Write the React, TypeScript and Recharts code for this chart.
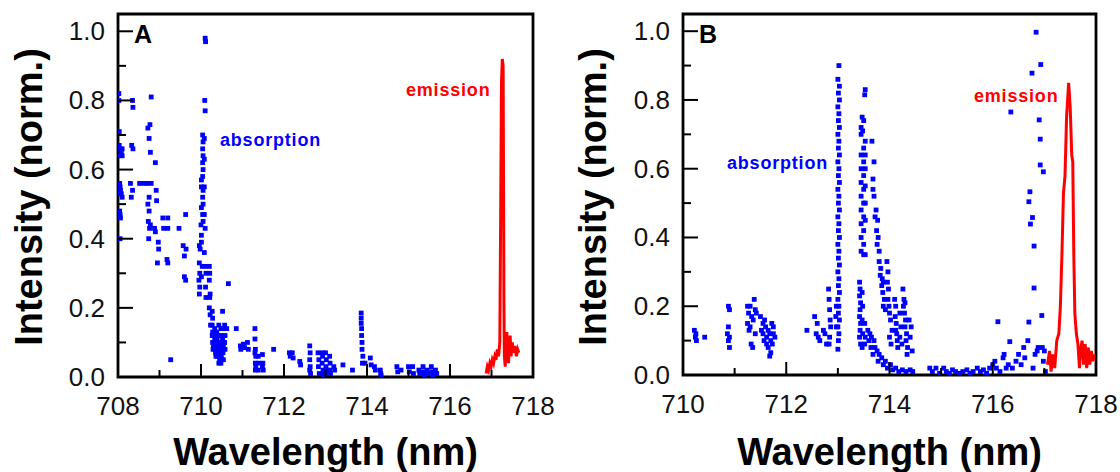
import React from 'react';
import { ScatterChart, Scatter, XAxis, YAxis, ReferenceArea } from 'recharts';

// panel A: absorption points (x = wavelength nm, y = intensity)
const absorptionA: [number, number][] = [
  [708.02, 0.82], [708.02, 0.8], [708.03, 0.71], [708.03, 0.67], [708.05, 0.66], [708.04, 0.64],
  [708.08, 0.65], [708.1, 0.66], [708.1, 0.64], [708.04, 0.56], [708.05, 0.55], [708.06, 0.54],
  [708.05, 0.53], [708.08, 0.53], [708.1, 0.52], [708.04, 0.48], [708.05, 0.47], [708.06, 0.46],
  [708.05, 0.4], [708.35, 0.8], [708.36, 0.78], [708.33, 0.67], [708.36, 0.66], [708.3, 0.56],
  [708.35, 0.54], [708.32, 0.52], [708.52, 0.56], [708.62, 0.56], [708.72, 0.72], [708.75, 0.69],
  [708.77, 0.73], [708.8, 0.81], [708.78, 0.65], [708.7, 0.56], [708.8, 0.56], [708.75, 0.52],
  [708.72, 0.5], [708.75, 0.48], [708.73, 0.45], [708.78, 0.44], [708.76, 0.43], [708.74, 0.4],
  [708.9, 0.62], [708.92, 0.54], [708.93, 0.51], [708.88, 0.43], [708.9, 0.42], [708.97, 0.39],
  [708.98, 0.37], [708.95, 0.33], [709.08, 0.46], [709.1, 0.43], [709.2, 0.46], [709.2, 0.43],
  [709.18, 0.34], [709.2, 0.33], [709.27, 0.05], [709.47, 0.43], [709.57, 0.38], [709.6, 0.35],
  [709.63, 0.47], [709.64, 0.37], [709.6, 0.29], [709.63, 0.28],
  [709.96, 0.38], [709.98, 0.37], [709.96, 0.33], [709.97, 0.3], [709.95, 0.28], [709.97, 0.26],
  [709.96, 0.24], [710.01, 0.57], [710.01, 0.55], [710.01, 0.49], [710.0, 0.44], [710.01, 0.41],
  [710.01, 0.39], [710.03, 0.32], [710.01, 0.29], [710.04, 0.7], [710.05, 0.68], [710.04, 0.66],
  [710.05, 0.64], [710.04, 0.62], [710.05, 0.6], [710.04, 0.58], [710.05, 0.54], [710.04, 0.52],
  [710.05, 0.5], [710.04, 0.47], [710.05, 0.45], [710.1, 0.98], [710.11, 0.97], [710.09, 0.8],
  [710.1, 0.77], [710.08, 0.69], [710.08, 0.63], [710.08, 0.55], [710.08, 0.47], [710.1, 0.43],
  [710.08, 0.36], [710.12, 0.32], [710.12, 0.3], [710.11, 0.26], [710.12, 0.23],
  [710.2, 0.32], [710.21, 0.3], [710.2, 0.28], [710.22, 0.24], [710.21, 0.23], [710.2, 0.2],
  [710.22, 0.18], [710.23, 0.15], [710.27, 0.19], [710.28, 0.17], [710.27, 0.15], [710.28, 0.13],
  [710.27, 0.12], [710.28, 0.1], [710.3, 0.09], [710.29, 0.08], [710.33, 0.14], [710.34, 0.12],
  [710.33, 0.11], [710.35, 0.1], [710.34, 0.08], [710.35, 0.07], [710.36, 0.06], [710.38, 0.13],
  [710.39, 0.11], [710.38, 0.09], [710.4, 0.08], [710.39, 0.06], [710.43, 0.15], [710.44, 0.12],
  [710.43, 0.1], [710.45, 0.09], [710.44, 0.07], [710.45, 0.05], [710.43, 0.04], [710.48, 0.14],
  [710.49, 0.12], [710.48, 0.1], [710.5, 0.08], [710.49, 0.06], [710.48, 0.04], [710.52, 0.19],
  [710.53, 0.14], [710.52, 0.11], [710.54, 0.09], [710.53, 0.07], [710.54, 0.05], [710.57, 0.15],
  [710.58, 0.12], [710.57, 0.1], [710.58, 0.08], [710.62, 0.14], [710.66, 0.27], [710.85, 0.14],
  [710.95, 0.09], [710.96, 0.08], [711.02, 0.095], [711.05, 0.085], [711.12, 0.1], [711.14, 0.08],
  [711.3, 0.14], [711.3, 0.11], [711.31, 0.08], [711.3, 0.07], [711.32, 0.06], [711.31, 0.04],
  [711.32, 0.03], [711.31, 0.02], [711.38, 0.06], [711.39, 0.04], [711.38, 0.02], [711.48, 0.065],
  [711.49, 0.04], [711.48, 0.03], [711.5, 0.02], [711.75, 0.08], [712.13, 0.07], [712.15, 0.06],
  [712.2, 0.07], [712.22, 0.055], [712.38, 0.045], [712.4, 0.035], [712.62, 0.09], [712.63, 0.07],
  [712.62, 0.05], [712.63, 0.03], [712.62, 0.02], [712.64, 0.01], [712.82, 0.07], [712.84, 0.05],
  [712.83, 0.03], [712.85, 0.01], [712.92, 0.07], [712.93, 0.06], [712.92, 0.04], [712.94, 0.02],
  [712.93, 0.01], [712.95, 0.005], [713.0, 0.07], [713.02, 0.05], [713.01, 0.03], [713.03, 0.02],
  [713.02, 0.01], [713.1, 0.06], [713.11, 0.04], [713.1, 0.02], [713.12, 0.01], [713.2, 0.03],
  [713.22, 0.02], [713.42, 0.035], [713.65, 0.02], [713.86, 0.185], [713.86, 0.17], [713.86, 0.155],
  [713.87, 0.14], [713.87, 0.12], [713.88, 0.1], [713.88, 0.08], [713.9, 0.06], [713.89, 0.04],
  [713.95, 0.04], [714.08, 0.055], [714.1, 0.035], [714.18, 0.03], [714.2, 0.02], [714.32, 0.02],
  [714.33, 0.01], [714.34, 0.005], [714.72, 0.03], [714.74, 0.015], [714.82, 0.02], [715.0, 0.03],
  [715.02, 0.015], [715.1, 0.03], [715.12, 0.01], [715.25, 0.02], [715.27, 0.01], [715.35, 0.03],
  [715.36, 0.015], [715.38, 0.005], [715.45, 0.02], [715.47, 0.01], [715.55, 0.03], [715.56, 0.015],
  [715.58, 0.005], [715.65, 0.02], [715.68, 0.01],
];

// panel A: emission trace
const emissionA: [number, number][] = [
  [716.87, 0.01], [716.9, 0.03], [716.93, 0.02], [716.96, 0.04], [716.99, 0.03], [717.02, 0.05],
  [717.05, 0.04], [717.08, 0.06], [717.11, 0.05], [717.14, 0.08], [717.17, 0.06], [717.2, 0.1],
  [717.22, 0.45], [717.24, 0.85], [717.26, 0.92], [717.28, 0.9], [717.29, 0.58], [717.3, 0.2],
  [717.31, 0.06], [717.33, 0.03], [717.35, 0.11], [717.37, 0.13], [717.39, 0.06], [717.41, 0.04],
  [717.43, 0.09], [717.45, 0.12], [717.47, 0.06], [717.5, 0.1], [717.53, 0.07], [717.56, 0.09],
  [717.6, 0.06], [717.63, 0.08], [717.66, 0.07],
];

// panel B: absorption points
const absorptionB: [number, number][] = [
  [710.22, 0.13], [710.24, 0.11], [710.26, 0.1], [710.25, 0.12], [710.42, 0.11],
  [710.88, 0.2], [710.9, 0.19], [710.88, 0.14], [710.86, 0.12], [710.9, 0.11], [710.88, 0.1], [710.9, 0.08],
  [711.25, 0.2], [711.3, 0.2], [711.38, 0.22], [711.27, 0.18], [711.33, 0.17], [711.25, 0.15],
  [711.3, 0.14], [711.36, 0.16], [711.4, 0.19], [711.42, 0.18], [711.28, 0.13], [711.32, 0.09],
  [711.35, 0.08], [711.4, 0.12], [711.5, 0.17], [711.55, 0.15], [711.52, 0.13], [711.58, 0.16],
  [711.6, 0.14], [711.62, 0.11], [711.57, 0.1], [711.65, 0.13], [711.68, 0.12], [711.7, 0.1],
  [711.72, 0.15], [711.75, 0.12], [711.73, 0.09], [711.78, 0.11], [711.65, 0.08], [711.7, 0.065],
  [711.68, 0.055], [711.62, 0.09], [711.55, 0.12], [711.75, 0.14],
  [712.4, 0.13], [712.55, 0.17], [712.58, 0.12], [712.6, 0.15], [712.62, 0.11], [712.65, 0.1],
  [712.72, 0.13], [712.75, 0.12], [712.78, 0.09], [712.82, 0.25], [712.83, 0.22], [712.84, 0.19],
  [712.85, 0.16], [712.86, 0.14], [712.84, 0.11], [712.83, 0.09],
  [713.02, 0.9], [713.0, 0.86], [713.03, 0.84], [713.01, 0.82], [713.03, 0.8], [713.0, 0.78],
  [713.02, 0.76], [713.01, 0.74], [713.03, 0.72], [713.0, 0.7], [713.02, 0.68], [713.01, 0.66],
  [713.03, 0.64], [713.0, 0.62], [713.02, 0.6], [713.01, 0.58], [713.03, 0.56], [713.0, 0.54],
  [713.02, 0.52], [713.01, 0.5], [713.03, 0.48], [713.0, 0.46], [713.02, 0.44], [713.01, 0.42],
  [713.03, 0.4], [713.0, 0.38], [713.02, 0.36], [713.01, 0.34], [713.03, 0.32], [713.0, 0.3],
  [713.02, 0.28], [713.01, 0.26], [713.03, 0.24], [713.0, 0.22], [713.02, 0.2], [713.01, 0.18],
  [713.03, 0.16], [713.0, 0.14], [713.02, 0.12], [713.01, 0.1], [713.0, 0.075], [712.97, 0.2],
  [712.96, 0.17], [712.97, 0.14],
  [713.53, 0.83], [713.52, 0.815], [713.47, 0.75], [713.5, 0.74], [713.45, 0.72], [713.48, 0.71],
  [713.66, 0.68], [713.45, 0.7], [713.5, 0.66], [713.53, 0.68], [713.45, 0.64], [713.53, 0.64],
  [713.5, 0.62], [713.7, 0.62], [713.45, 0.6], [713.53, 0.6], [713.5, 0.58], [713.68, 0.57],
  [713.45, 0.56], [713.53, 0.55], [713.5, 0.54], [713.68, 0.54], [713.45, 0.52], [713.7, 0.52],
  [713.5, 0.5], [713.53, 0.5], [713.45, 0.48], [713.74, 0.48], [713.5, 0.46], [713.72, 0.46],
  [713.45, 0.44], [713.53, 0.45], [713.77, 0.45], [713.5, 0.42], [713.75, 0.42], [713.45, 0.4],
  [713.78, 0.4], [713.5, 0.38], [713.76, 0.38], [713.45, 0.36], [713.8, 0.36], [713.5, 0.35],
  [713.53, 0.35], [713.8, 0.33], [713.83, 0.31], [713.82, 0.29], [713.86, 0.28], [713.85, 0.26],
  [713.88, 0.27], [713.87, 0.24], [713.9, 0.22], [713.88, 0.2], [713.92, 0.19],
  [713.42, 0.27], [713.43, 0.25], [713.42, 0.23], [713.44, 0.21], [713.43, 0.19], [713.42, 0.17],
  [713.44, 0.15], [713.43, 0.13], [713.42, 0.11], [713.44, 0.09], [713.47, 0.24], [713.48, 0.2],
  [713.47, 0.16], [713.48, 0.12], [713.47, 0.08], [713.52, 0.15], [713.53, 0.11], [713.52, 0.09],
  [713.58, 0.13], [713.62, 0.12], [713.6, 0.1], [713.65, 0.11], [713.64, 0.08], [713.7, 0.1],
  [713.72, 0.08], [713.68, 0.06], [713.76, 0.07], [713.8, 0.06], [713.78, 0.04], [713.85, 0.05],
  [713.88, 0.03], [713.92, 0.04], [713.96, 0.02], [714.02, 0.03], [714.06, 0.015], [714.12, 0.02],
  [714.18, 0.01], [714.25, 0.015], [714.32, 0.01], [714.4, 0.015], [714.45, 0.01],
  [713.95, 0.33], [713.97, 0.3], [713.96, 0.27], [713.98, 0.25], [713.97, 0.22], [713.99, 0.2],
  [714.0, 0.18], [714.02, 0.16], [714.0, 0.11], [714.03, 0.09], [714.05, 0.13], [714.1, 0.22],
  [714.12, 0.2], [714.11, 0.17], [714.13, 0.15], [714.12, 0.13], [714.14, 0.12], [714.15, 0.1],
  [714.16, 0.08], [714.2, 0.18], [714.22, 0.14], [714.2, 0.11], [714.24, 0.09], [714.26, 0.25],
  [714.28, 0.22], [714.27, 0.2], [714.3, 0.21], [714.29, 0.18], [714.31, 0.16], [714.3, 0.14],
  [714.33, 0.12], [714.32, 0.1], [714.35, 0.08], [714.34, 0.06], [714.38, 0.16], [714.42, 0.14],
  [714.4, 0.11], [714.44, 0.07],
  [714.78, 0.02], [714.83, 0.01], [714.9, 0.02], [714.97, 0.005], [715.05, 0.02], [715.1, 0.01],
  [715.16, 0.005], [715.22, 0.015], [715.28, 0.01], [715.35, 0.005], [715.42, 0.01], [715.5, 0.015],
  [715.56, 0.005], [715.62, 0.01], [715.7, 0.02], [715.76, 0.01], [715.82, 0.015], [715.88, 0.005],
  [715.94, 0.02], [716.0, 0.03], [716.04, 0.04], [716.07, 0.02], [716.1, 0.155], [716.14, 0.01],
  [716.2, 0.05], [716.22, 0.06], [716.26, 0.02], [716.3, 0.03], [716.33, 0.097], [716.35, 0.765],
  [716.38, 0.02], [716.45, 0.04], [716.5, 0.06], [716.55, 0.03], [716.6, 0.08], [716.62, 0.05],
  [716.68, 0.1], [716.7, 0.154], [716.7, 0.504], [716.72, 0.533], [716.73, 0.439], [716.76, 0.878],
  [716.77, 0.458], [716.78, 0.02], [716.8, 0.375], [716.8, 0.253], [716.82, 0.06], [716.84, 0.997],
  [716.86, 0.07], [716.88, 0.08], [716.9, 0.742], [716.92, 0.686], [716.92, 0.611], [716.93, 0.903],
  [716.95, 0.173], [716.96, 0.08], [716.98, 0.591], [716.98, 0.04], [717.0, 0.07], [717.02, 0.01],
];

// panel B: emission trace
const emissionB: [number, number][] = [
  [717.06, 0.03], [717.1, 0.07], [717.13, 0.01], [717.16, 0.06], [717.2, 0.02], [717.24, 0.1],
  [717.28, 0.12], [717.31, 0.2], [717.34, 0.35], [717.37, 0.53], [717.4, 0.58], [717.43, 0.75],
  [717.47, 0.85], [717.5, 0.78], [717.53, 0.64], [717.55, 0.62], [717.57, 0.35], [717.59, 0.18],
  [717.62, 0.12], [717.65, 0.09], [717.68, 0.02], [717.7, 0.07], [717.73, 0.1], [717.76, 0.03],
  [717.79, 0.09], [717.82, 0.02], [717.85, 0.08], [717.88, 0.03], [717.91, 0.07], [717.94, 0.04],
  [717.97, 0.06],
];

const ticksA = [708, 709, 710, 711, 712, 713, 714, 715, 716, 717, 718];
const ticksB = [710, 711, 712, 713, 714, 715, 716, 717, 718];
const yTicks = [0, 0.1, 0.2, 0.3, 0.4, 0.5, 0.6, 0.7, 0.8, 0.9, 1.0];

const FONT = '"Liberation Sans", Arial, sans-serif';
const BLUE = '#0000ff';
const RED = '#ff0000';

const toPoints = (arr: [number, number][]) => arr.map(([x, y]) => ({ x, y }));

const Square = (props: any) => {
  const { cx, cy } = props;
  if (cx == null || cy == null) return <g />;
  return <rect x={cx - 2.4} y={cy - 2.4} width={4.8} height={4.8} fill={BLUE} />;
};

const NoShape = () => <g />;

const XTick = (props: any) => {
  const { x, y, payload } = props;
  const major = Math.round(payload.value) % 2 === 0;
  return (
    <g>
      <line x1={x} x2={x} y1={y} y2={y - (major ? 13 : 7)} stroke="#000" strokeWidth={2} />
      {major && (
        <text x={x} y={y + 38} textAnchor="middle" fontSize={26} fontFamily={FONT} fill="#111">
          {payload.value}
        </text>
      )}
    </g>
  );
};

const YTick = (props: any) => {
  const { x, y, payload } = props;
  const major = Math.round(payload.value * 10) % 2 === 0;
  return (
    <g>
      <line x1={x} x2={x + (major ? 15 : 8)} y1={y} y2={y} stroke="#000" strokeWidth={2} />
      {major && (
        <text x={x - 13} y={y + 9} textAnchor="end" fontSize={26} fontFamily={FONT} fill="#111">
          {payload.value.toFixed(1)}
        </text>
      )}
    </g>
  );
};

interface PanelProps {
  left: number;
  letter: string;
  xMin: number;
  ticks: number[];
  absorption: [number, number][];
  emission: [number, number][];
  yAxisWidth: number;
  rightMargin: number;
  bottomMargin: number;
  titleX: number;
  absLabel: { x: number; y: number };
  emLabel: { x: number; y: number };
}

function Panel(p: PanelProps) {
  const plotLeft = p.yAxisWidth;
  const plotRight = 560 - p.rightMargin;
  return (
    <div style={{ position: 'absolute', left: p.left, top: 0, width: 560, height: 472 }}>
      <ScatterChart
        width={560}
        height={472}
        margin={{ top: 14, right: p.rightMargin, bottom: p.bottomMargin, left: 0 }}
      >
        <XAxis
          type="number"
          dataKey="x"
          domain={[p.xMin, 718]}
          ticks={p.ticks}
          allowDataOverflow
          height={60}
          axisLine={false}
          tickLine={false}
          tickSize={0}
          tickMargin={0}
          tick={<XTick />}
          interval={0}
        />
        <YAxis
          type="number"
          dataKey="y"
          domain={[0, 1.05]}
          ticks={yTicks}
          allowDataOverflow
          width={p.yAxisWidth}
          axisLine={false}
          tickLine={false}
          tickSize={0}
          tickMargin={0}
          tick={<YTick />}
          interval={0}
        />
        <Scatter data={toPoints(p.absorption)} shape={<Square />} isAnimationActive={false} />
        <Scatter
          data={toPoints(p.emission)}
          fill={RED}
          line={{ stroke: RED, strokeWidth: 3 }}
          shape={<NoShape />}
          isAnimationActive={false}
        />
        <ReferenceArea
          x1={p.xMin}
          x2={718}
          y1={0}
          y2={1.05}
          fill="none"
          fillOpacity={0}
          stroke="#000"
          strokeWidth={2.8}
          ifOverflow="visible"
        />
      </ScatterChart>
      <svg
        width={560}
        height={472}
        style={{ position: 'absolute', left: 0, top: 0, pointerEvents: 'none' }}
      >
        <text
          transform={`translate(${p.titleX},197) rotate(-90)`}
          textAnchor="middle"
          fontSize={38}
          fontWeight="bold"
          fontFamily={FONT}
          fill="#000"
        >
          Intensity (norm.)
        </text>
        <text
          x={(plotLeft + plotRight) / 2}
          y={465}
          textAnchor="middle"
          fontSize={38}
          fontWeight="bold"
          fontFamily={FONT}
          fill="#000"
        >
          Wavelength (nm)
        </text>
        <text x={plotLeft + 16} y={43} fontSize={25} fontWeight="bold" fontFamily={FONT} fill="#000">
          {p.letter}
        </text>
        <text
          x={p.absLabel.x}
          y={p.absLabel.y}
          fontSize={18}
          fontWeight="bold"
          letterSpacing={0.8}
          fontFamily={FONT}
          fill={BLUE}
        >
          absorption
        </text>
        <text
          x={p.emLabel.x}
          y={p.emLabel.y}
          fontSize={18}
          fontWeight="bold"
          letterSpacing={0.8}
          fontFamily={FONT}
          fill={RED}
        >
          emission
        </text>
      </svg>
    </div>
  );
}

export default function App() {
  return (
    <div style={{ position: 'absolute', left: 0, top: 0, width: 1120, height: 472, background: '#fff' }}>
      <Panel
        left={0}
        letter="A"
        xMin={708}
        ticks={ticksA}
        absorption={absorptionA}
        emission={emissionA}
        yAxisWidth={118}
        rightMargin={27}
        bottomMargin={35}
        titleX={42}
        absLabel={{ x: 220, y: 146 }}
        emLabel={{ x: 406, y: 96 }}
      />
      <Panel
        left={560}
        letter="B"
        xMin={710}
        ticks={ticksB}
        absorption={absorptionB}
        emission={emissionB}
        yAxisWidth={123}
        rightMargin={24}
        bottomMargin={37}
        titleX={46}
        absLabel={{ x: 167, y: 169 }}
        emLabel={{ x: 414, y: 102 }}
      />
    </div>
  );
}
